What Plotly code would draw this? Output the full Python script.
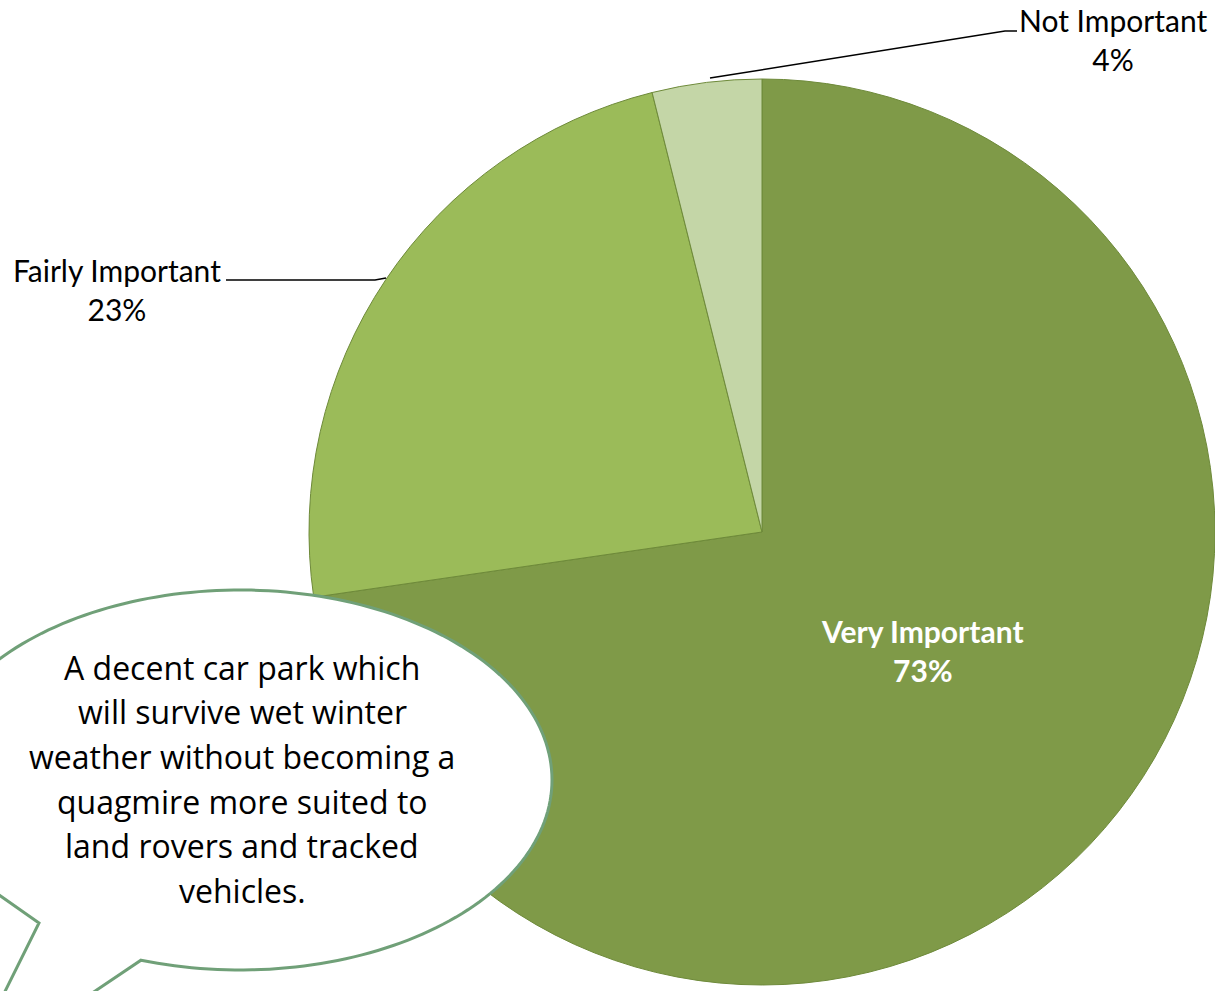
import numpy as np
import plotly.graph_objects as go

# ---- data ----
categories = ["Very Important", "Fairly Important", "Not Important"]
values = [72.7, 23.4, 3.9]
slice_colors = ["#7F9A48", "#9BBB59", "#C4D6A7"]
quote_lines = [
    "A decent car park which",
    "will survive wet winter",
    "weather without becoming a",
    "quagmire more suited to",
    "land rovers and tracked",
    "vehicles.",
]

W, H = 1215, 991


def px(x):
    return x / W


def py(y):
    return 1 - y / H


total = sum(values)
pcts = [round(v / total * 100) for v in values]

fig = go.Figure()
fig.add_trace(go.Pie(
    labels=categories,
    values=values,
    sort=False,
    direction="clockwise",
    rotation=0,
    marker=dict(colors=slice_colors, line=dict(color="#6E8A3A", width=1)),
    textinfo="none",
    hoverinfo="label+percent",
    showlegend=False,
    domain=dict(x=[px(762 - 453), 1.0], y=[py(985), py(79)]),
))

shapes = []
# leader lines
shapes.append(dict(type="path", xref="paper", yref="paper",
                   path=f"M{px(710)},{py(78)} L{px(1005)},{py(31)} L{px(1017)},{py(31)}",
                   line=dict(color="black", width=1.5), layer="above"))
shapes.append(dict(type="path", xref="paper", yref="paper",
                   path=f"M{px(226)},{py(280)} L{px(375)},{py(280)} L{px(386)},{py(278)}",
                   line=dict(color="black", width=1.5), layer="above"))

# speech bubble (ellipse + tail)
cx, cy, rx, ry = 240, 780, 312, 190
t = np.radians(np.linspace(108.5, 150.7 - 360, 200))
pts = [(cx + rx * np.cos(a), cy + ry * np.sin(a)) for a in t]
pts += [(39, 923), (-40, 1082)]
path = "M" + " L".join(f"{px(x):.5f},{py(y):.5f}" for x, y in pts) + " Z"
shapes.append(dict(type="path", xref="paper", yref="paper", path=path,
                   fillcolor="white", line=dict(color="#70A078", width=3), layer="above"))

annotations = []
lab_font = dict(family="Lato, Calibri, sans-serif", size=30, color="black")
annotations.append(dict(x=px(1113), y=py(40), xref="paper", yref="paper",
                        text=f"{categories[2]}<br>{pcts[2]}%", showarrow=False,
                        font=lab_font, align="center", xanchor="center", yanchor="middle"))
annotations.append(dict(x=px(117), y=py(289), xref="paper", yref="paper",
                        text=f"{categories[1]}<br>{pcts[1]}%", showarrow=False,
                        font=lab_font, align="center", xanchor="center", yanchor="middle"))
annotations.append(dict(x=px(922), y=py(650), xref="paper", yref="paper",
                        text=f"<b>{categories[0]}<br>{pcts[0]}%</b>", showarrow=False,
                        font=dict(family="Lato, Calibri, sans-serif", size=30, color="white"),
                        align="center", xanchor="center", yanchor="middle"))

line_y0, line_dy = 667, 44.7
for i, line in enumerate(quote_lines):
    annotations.append(dict(x=px(242), y=py(line_y0 + i * line_dy), xref="paper", yref="paper",
                            text=line, showarrow=False,
                            font=dict(family="Open Sans, sans-serif", size=32, color="black"),
                            xanchor="center", yanchor="middle"))

fig.update_layout(
    width=W, height=H,
    margin=dict(l=0, r=0, t=0, b=0),
    paper_bgcolor="white", plot_bgcolor="white",
    shapes=shapes, annotations=annotations,
)
fig.write_html("out.html",
               config={"displayModeBar": False},
               post_script="document.body.style.margin='0';document.body.style.overflow='hidden';")
